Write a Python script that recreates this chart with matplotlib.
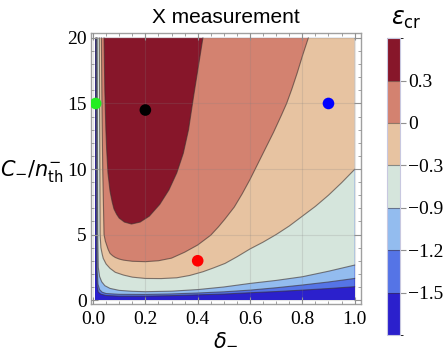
import numpy as np
import matplotlib
matplotlib.use("Agg")
import matplotlib.pyplot as plt
from matplotlib.colors import ListedColormap, BoundaryNorm
from matplotlib.cm import ScalarMappable
from matplotlib.ticker import MultipleLocator, FormatStrFormatter

# contour levels of eps_cr and the band colours (low -> high)
levels = [-1.5, -1.2, -0.9, -0.3, 0.0, 0.3]
level_labels = ["\u22121.5", "\u22121.2", "\u22120.9", "\u22120.3", "0", "0.3"]
band_colors = ["#2b20cc", "#5574e6", "#93bcef", "#d5e5dc", "#e7c3a1", "#d38270", "#87162a"]

# plotted domain
delta_range = [0.006, 1.0]
C_range = [0.0, 20.0]

# contour lines: (delta_-, C_-/n_th) from the top-left arm round to the right
m15_d = [0.010, 0.011, 0.012, 0.013, 0.016, 0.020, 0.030, 0.050, 0.10, 0.20, 0.30, 0.40, 0.50, 0.60, 0.70, 0.80, 0.90, 1.00]
m15_C = [20, 10, 5, 2.0, 1.0, 0.6, 0.45, 0.35, 0.30, 0.30, 0.34, 0.40, 0.46, 0.56, 0.65, 0.76, 0.88, 1.02]

m12_d = [0.013, 0.014, 0.015, 0.016, 0.019, 0.025, 0.035, 0.050, 0.10, 0.20, 0.30, 0.40, 0.50, 0.60, 0.70, 0.80, 0.90, 1.00]
m12_C = [20, 10, 5, 2.2, 1.2, 0.8, 0.6, 0.5, 0.44, 0.43, 0.47, 0.54, 0.63, 0.76, 0.94, 1.15, 1.38, 1.65]

m09_d = [0.016, 0.017, 0.018, 0.020, 0.025, 0.033, 0.045, 0.065, 0.10, 0.15, 0.20, 0.30, 0.40, 0.50, 0.60, 0.70, 0.80, 0.90, 1.00]
m09_C = [20, 10, 5, 2.5, 1.8, 1.4, 1.1, 0.89, 0.74, 0.67, 0.64, 0.68, 0.80, 1.0, 1.27, 1.5, 1.78, 2.2, 2.67]

m03_d = [0.024, 0.025, 0.026, 0.027, 0.030, 0.035, 0.039, 0.050, 0.065, 0.085, 0.116, 0.15, 0.20, 0.26, 0.32, 0.37, 0.42, 0.46, 0.505,
         0.55, 0.60, 0.65, 0.70, 0.75, 0.80, 0.85, 0.90, 0.95, 1.00]
m03_C = [20, 15, 10, 5, 4.0, 3.5, 3.18, 2.75, 2.42, 2.12, 1.91, 1.75, 1.65, 1.64, 1.70, 1.88, 2.16, 2.45, 2.8,
         3.3, 3.9, 4.42, 5.0, 5.65, 6.4, 7.15, 8.0, 8.95, 9.97]

z00_d = [0.032, 0.034, 0.037, 0.040, 0.042, 0.047, 0.052, 0.058, 0.065, 0.075, 0.085, 0.10, 0.116, 0.15, 0.20, 0.25, 0.30, 0.35,
         0.40, 0.45, 0.48, 0.505, 0.54, 0.57, 0.60, 0.63, 0.66, 0.69, 0.72, 0.74, 0.76, 0.78, 0.80, 0.823]
z00_C = [20, 15, 10, 7, 5.0, 4.5, 4.2, 3.85, 3.56, 3.38, 3.25, 3.13, 3.05, 2.96, 2.93, 3.0, 3.2, 3.65,
         4.2, 4.95, 5.6, 6.2, 7.1, 8.1, 9.2, 10.4, 11.6, 12.8, 14.1, 15.0, 16.1, 17.3, 18.6, 20]

p03_d = [0.042, 0.045, 0.049, 0.052, 0.057, 0.065, 0.073, 0.080, 0.090, 0.100, 0.120, 0.147, 0.18, 0.215, 0.255, 0.29, 0.32,
         0.345, 0.365, 0.384, 0.40, 0.42]
p03_C = [20, 16, 13, 11.5, 9.7, 8.3, 7.5, 6.95, 6.55, 6.25, 5.95, 5.8, 5.95, 6.4, 7.3, 8.4, 9.7,
         11.2, 13, 15.5, 17.5, 20]

contour_d = [m15_d, m12_d, m09_d, m03_d, z00_d, p03_d]
contour_C = [m15_C, m12_C, m09_C, m03_C, z00_C, p03_C]

# marked points
pts_d = [0.01, 0.2, 0.4, 0.9]
pts_C = [15, 14.5, 3.0, 15]
pts_col = ["#22ee22", "#000000", "#ff0000", "#0000ff"]

plt.rcParams["font.family"] = ["Liberation Serif", "DejaVu Serif"]
plt.rcParams["mathtext.fontset"] = "dejavusans"

fig = plt.figure(figsize=(4.47, 3.63), dpi=100)
ax = fig.add_axes([0.203, 0.1625, 0.605, 0.746])

# lowest band fills the whole domain, each higher band is stacked on top
ax.fill_between(delta_range, C_range[0], C_range[1], color=band_colors[0], lw=0, zorder=1)
for i in range(len(levels)):
    d = list(contour_d[i])
    c = list(contour_C[i])
    if c[-1] < C_range[1]:
        d.append(delta_range[1])
        c.append(C_range[1])
    ax.fill(d, c, color=band_colors[i + 1], lw=0, zorder=1)
    ax.plot(contour_d[i], contour_C[i], color="#3a2e2e", alpha=0.6, lw=0.8, zorder=2)

ax.scatter(pts_d, pts_C, c=pts_col, s=70, zorder=5, linewidths=0)

ax.set_xlim(-0.0088, 1.025)
ax.set_ylim(-0.3, 20.36)
ax.xaxis.set_major_locator(MultipleLocator(0.2))
ax.xaxis.set_minor_locator(MultipleLocator(0.05))
ax.yaxis.set_major_locator(MultipleLocator(5))
ax.yaxis.set_minor_locator(MultipleLocator(1))
ax.xaxis.set_major_formatter(FormatStrFormatter("%.1f"))
ax.grid(True, which="major", color="#808080", alpha=0.2, lw=0.8, zorder=2.5)
ax.set_axisbelow(False)
ax.tick_params(which="both", direction="in", top=True, right=True, colors="#909090",
               labelcolor="black", labelsize=14)
ax.tick_params(which="major", length=5, width=0.8)
ax.tick_params(which="minor", length=2.5, width=0.6)
ax.tick_params(axis="x", pad=5)
ax.tick_params(axis="y", pad=3)
for s in ax.spines.values():
    s.set_color("#a0a0a0")
    s.set_linewidth(1.0)

ax.set_title("X measurement", family="Liberation Sans", fontsize=15, pad=7)
ax.set_xlabel(r"$\delta_{-}$", fontsize=15, labelpad=2)
fig.text(0.07, 0.53, r"$C_{-}/n_{\rm th}^{-}$", fontsize=15, ha="center", va="center")

# colour bar with equal-height bands
cax = fig.add_axes([0.866, 0.077, 0.029, 0.818])
bounds = [-1.8] + levels + [0.6]
norm = BoundaryNorm(bounds, len(band_colors))
sm = ScalarMappable(norm=norm, cmap=ListedColormap(band_colors))
cb = fig.colorbar(sm, cax=cax, spacing="uniform", ticks=levels, drawedges=True)
cb.ax.set_yticklabels(level_labels)
cb.outline.set_edgecolor("#c8c8e0")
cb.outline.set_linewidth(0.8)
cb.dividers.set_color("#3a2e2e")
cb.dividers.set_alpha(0.5)
cb.dividers.set_linewidth(0.8)
cb.ax.tick_params(length=4, width=0.8, colors="#909090", labelcolor="black", labelsize=14, pad=2)
fig.text(0.91, 0.945, r"$\epsilon_{\rm cr}$", fontsize=17, ha="center", va="center")

fig.savefig("out.png", dpi=100)
